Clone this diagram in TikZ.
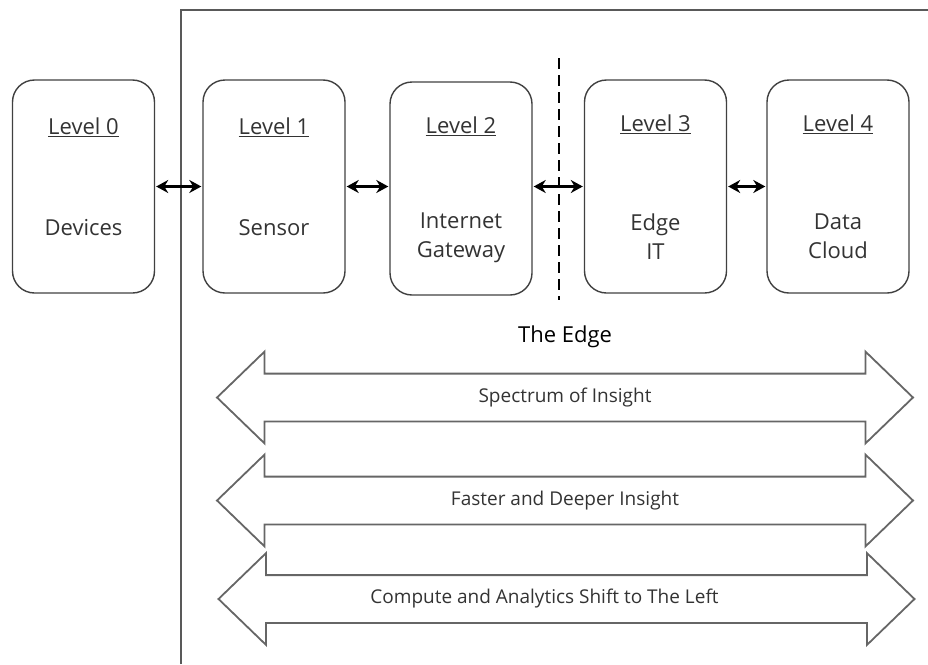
\documentclass[tikz,border=0pt]{standalone}
\usepackage{fontspec}
\setmainfont{Open Sans}
\usepackage{tikz}
\usetikzlibrary{shapes.arrows, arrows.meta, positioning}
\tikzset{
  font=\fontsize{22}{29}\selectfont,            % body text
  levelbox/.style  = {rectangle, draw=black!75, line width=1.4pt,
                      rounded corners=22pt, minimum width=142pt,
                      minimum height=213pt},
  levelname/.style = {text=black!80},
  levelbody/.style = {text=black!80, align=center},
  link/.style      = {<->, >={Stealth[length=12pt, width=13pt]},
                      line width=2.6pt, shorten >=1pt, shorten <=1pt},
  edgeline/.style  = {line width=2.6pt, dash pattern=on 11pt off 6pt},
  frame/.style     = {draw=black!65, line width=1.8pt},
  insight/.style   = {double arrow, draw=black!60, line width=1.8pt,
                      minimum width=90pt, minimum height=696pt,
                      double arrow head extend=22pt,
                      double arrow tip angle=88,
                      inner xsep=0pt, inner ysep=23pt},
  insighttext/.style = {text=black!80, font=\fontsize{19}{23}\selectfont}
}
\begin{document}
\begin{tikzpicture}[x=1pt, y=-1pt]
  \useasboundingbox (0,0) rectangle (928,664);
  \draw[frame] (181,664) -- (181,10) -- (928,10);

  % the five levels
  \node[levelbox] (b0) at (83.5,186.5) {};
  \node[levelbox] (b1) at (274,186.5) {};
  \node[levelbox] (b2) at (461,188.5) {};
  \node[levelbox] (b3) at (655.5,186.5) {};
  \node[levelbox] (b4) at (838,186.5) {};

  \node[levelname] (n0) at ([yshift=-48pt]b0.north) {\underline{Level 0}};
  \node[levelname] (n1) at ([yshift=-48pt]b1.north) {\underline{Level 1}};
  \node[levelname] (n2) at ([yshift=-45pt]b2.north) {\underline{Level 2}};
  \node[levelname] (n3) at ([yshift=-45pt]b3.north) {\underline{Level 3}};
  \node[levelname] (n4) at ([yshift=-45pt]b4.north) {\underline{Level 4}};

  \node[levelbody] (t0) at ([yshift=-41pt]b0.center) {Devices};
  \node[levelbody] (t1) at ([yshift=-41pt]b1.center) {Sensor};
  \node[levelbody] (t2) at ([yshift=-49pt]b2.center) {Internet\\Gateway};
  \node[levelbody] (t3) at ([yshift=-50pt]b3.center) {Edge\\IT};
  \node[levelbody] (t4) at ([yshift=-50pt]b4.center) {Data\\Cloud};

  \draw[link] (b0.east) -- (b1.west);
  \draw[link] (b1.east) -- (b2.west |- b1.east);
  \draw[link] (b2.east |- b3.west) -- (b3.west);
  \draw[link] (b3.east) -- (b4.west);

  \draw[edgeline] (559,58) -- (559,300);

  % the edge
  \node (edge) at (565,337) {The Edge};
  \node[insight] (a1) at (565,397.5) {};
  \node[insight] (a2) at (565,500.5) {};
  \node[insight] (a3) at (566.5,599) {};
  \node[insighttext] (l1) at (a1.center) {Spectrum of Insight};
  \node[insighttext] (l2) at (a2.center) {Faster and Deeper Insight};
  \node[insighttext] (l3) at ([xshift=-22pt]a3.center) {Compute and Analytics Shift to The Left};
\end{tikzpicture}
\end{document}
